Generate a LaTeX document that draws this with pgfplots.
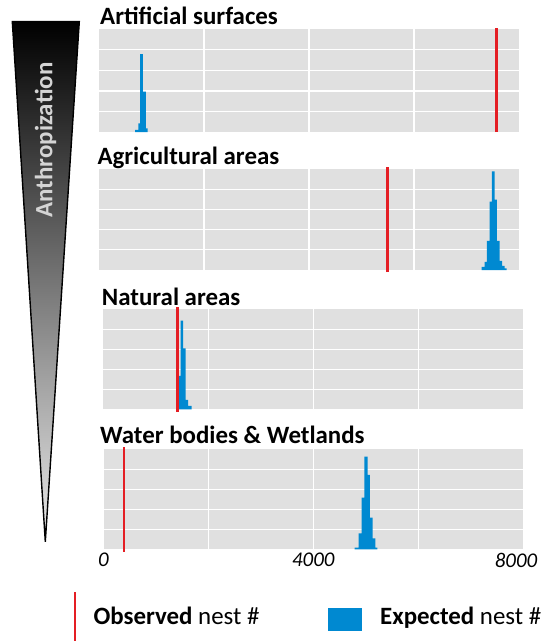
\documentclass[border=0pt]{standalone}
\usepackage{fontspec}
\setmainfont{Carlito}
\usepackage{pgfplots}
\pgfplotsset{compat=1.18}
\definecolor{bggray}{RGB}{224,224,224}
\definecolor{obsred}{RGB}{228,30,36}
\definecolor{expblue}{RGB}{0,137,209}
\definecolor{txtgray}{RGB}{212,212,212}
\tikzset{obs/.style={obsred, line width=2.4bp}}
\pgfplotsset{hist/.style={fill=expblue, draw=none, const plot mark left},
  panel/.style={
  scale only axis, width=420bp, height=100bp,
  xmin=0, xmax=8000, ymin=0, ymax=5, clip=false,
  axis background/.style={fill=bggray},
  axis line style={draw=none}, tick style={draw=none},
  xtick={2000,4000,6000}, ytick={1,2,3,4},
  xticklabels={}, yticklabels={},
  grid=major, major grid style={white, line width=1.2bp},
  anchor=south west}}
\begin{document}
\begin{tikzpicture}[x=1bp,y=1bp]
\useasboundingbox (0,0) rectangle (543,-641);
% gradient triangle
\shade[top color=black, bottom color=black!8, draw=black, line width=1.4bp]
  (12.3,-21.7) -- (79.3,-21.7) -- (45.3,-541.7) -- cycle;
\node[rotate=90, text=txtgray, font=\bfseries\fontsize{25}{28}\selectfont, inner sep=0]
  at (45.5,-140) {Anthropization};

% Panel 1
\begin{axis}[panel, height=102.7bp, at={(99bp,-132bp)}]
\addplot[hist] coordinates {(686,0.1)(749,0.42)(781,3.79)(838,1.96)(895,0.18)(928,0)} \closedcycle;
\addplot[obs] coordinates {(7575,0)(7575,5.05)};
\end{axis}
\node[anchor=base west, inner sep=0, font=\bfseries\fontsize{25}{28}\selectfont] at (100,-25) {Artificial surfaces};

% Panel 2
\begin{axis}[panel, height=100.7bp, at={(99bp,-270bp)}]
\addplot[hist] coordinates {(7286,0.15)(7343,0.4)(7387,1.45)(7439,3.4)(7482,4.9)(7534,3.5)(7578,1.45)(7629,0.45)(7680,0.2)(7724,0.08)(7762,0)} \closedcycle;
\addplot[obs] coordinates {(5492,-0.1)(5492,5.12)};
\end{axis}
\node[anchor=base west, inner sep=0, font=\bfseries\fontsize{25}{28}\selectfont] at (97.3,-165) {Agricultural areas};

% Panel 3
\begin{axis}[panel, at={(103.3bp,-409.3bp)}]
\addplot[hist] coordinates {(1395,0.15)(1428,1.67)(1474,4.43)(1520,3.05)(1570,0.47)(1614,0.17)(1680,0)} \closedcycle;
\addplot[obs] coordinates {(1417,-0.12)(1417,5.12)};
\end{axis}
\node[anchor=base west, inner sep=0, font=\bfseries\fontsize{25}{28}\selectfont] at (101.7,-305) {Natural areas};

% Panel 4
\begin{axis}[panel, at={(103.3bp,-549.3bp)},
  xtick={0,2000,4000,6000,8000}, xticklabels={0,,4000,,\hspace*{-14.6bp}8000},
  xticklabel style={font=\itshape\fontsize{21}{24}\selectfont}]
\addplot[hist] coordinates {(4787,0.08)(4863,0.8)(4920,2.58)(4972,4.63)(5034,3.72)(5079,1.58)(5130,0.55)(5181,0.08)(5219,0)} \closedcycle;
\addplot[obs] coordinates {(389,-0.12)(389,5.12)};
\end{axis}
\node[anchor=base west, inner sep=0, font=\bfseries\fontsize{25}{28}\selectfont] at (100,-443.3) {Water bodies \& Wetlands};

% legend
\draw[obs] (75,-592) -- (75,-641);
\node[anchor=base west, inner sep=0, font=\fontsize{25}{28}\selectfont] at (93.3,-624.3) {\textbf{Observed} nest \#};
\fill[expblue] (328,-608) rectangle (361.7,-630.7);
\node[anchor=base west, inner sep=0, font=\fontsize{25}{28}\selectfont] at (380,-624.3) {\textbf{Expected} nest \#};
\end{tikzpicture}
\end{document}
